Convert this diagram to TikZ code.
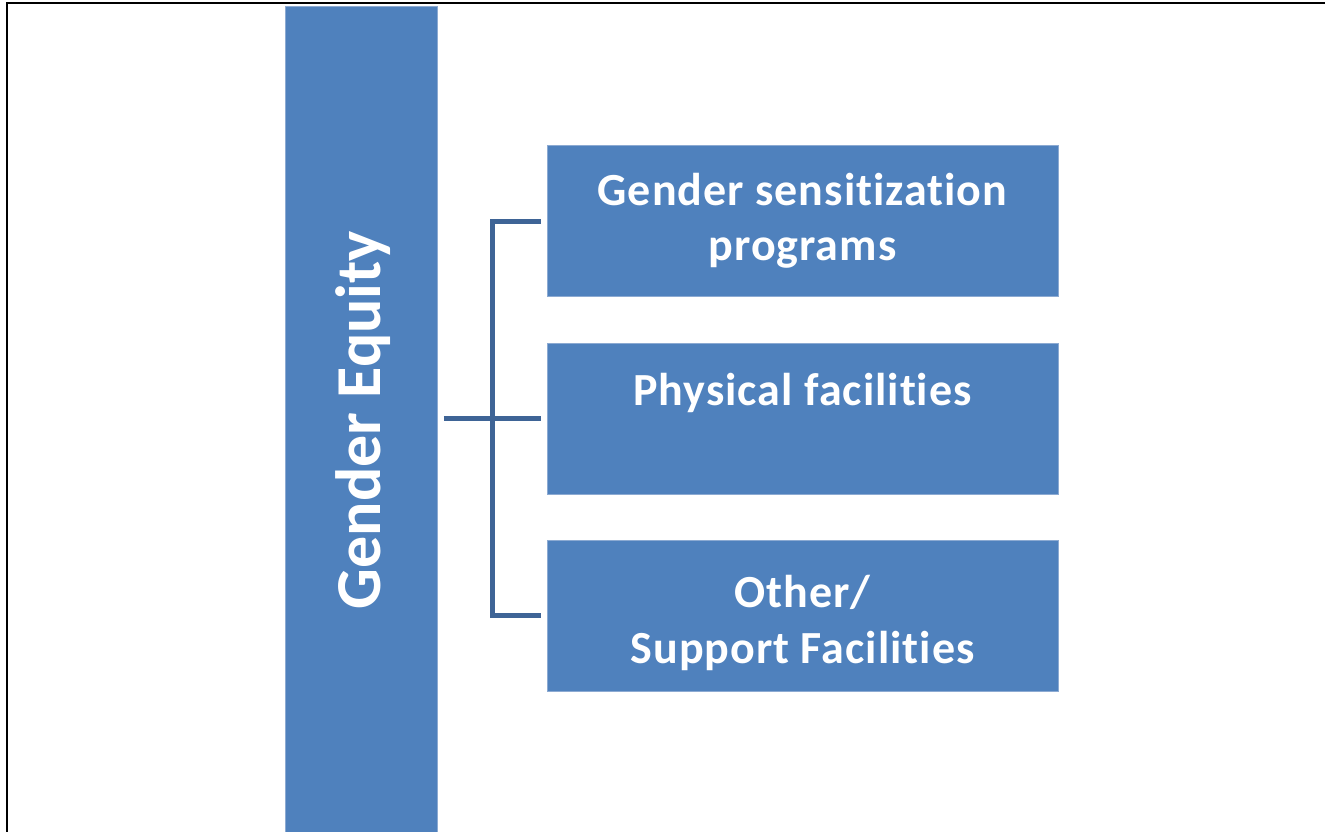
\documentclass[tikz,border=0pt]{standalone}
\usepackage{fontspec}
\setmainfont{Carlito}[Ligatures={NoCommon,NoRare,NoDiscretionary,NoContextual}]
\newfontfamily\boxfont{Carlito}[Ligatures={NoCommon,NoRare,NoDiscretionary,NoContextual},LetterSpace=2.2]
\definecolor{boxblue}{RGB}{79,129,189}
\definecolor{boxedge}{RGB}{140,170,210}
\definecolor{connblue}{RGB}{62,100,150}
\tikzset{
  boxnode/.style={rectangle, fill=boxblue, draw=boxedge, line width=0.8pt, inner sep=0pt, minimum width=511pt, minimum height=151pt},
  barnode/.style={rectangle, fill=boxblue, draw=boxedge, line width=0.8pt, inner sep=0pt, minimum width=152pt, minimum height=830pt, anchor=north west},
  boxtext/.style={text=white, font=\boxfont\fontsize{46}{55}\selectfont\bfseries, anchor=base, inner sep=0pt},
  bartext/.style={text=white, font=\fontsize{64}{78}\selectfont\bfseries, anchor=base, inner sep=0pt, rotate=90},
  conn/.style={draw=connblue, line width=5pt, line join=miter},
  frame/.style={draw=black, line width=2.2pt}
}
\begin{document}
\begin{tikzpicture}[x=1pt,y=-1pt]
\useasboundingbox (0,0) rectangle (1325,831);
\fill[white] (0,0) rectangle (1325,831);
% frame (top and left edges visible)
\coordinate (ftl) at (7,3);
\coordinate (ftr) at (1330,3);
\coordinate (fbl) at (7,840);
\draw[frame] (ftr) -- (ftl) -- (fbl);
% bar
\node[barnode] (ge) at (285,6) {};
\node[bartext] (getxt) at (380,420) {Gender Equity};
% boxes
\node[boxnode] (b1) at (802.5,221) {};
\node[boxnode] (b2) at (802.5,418.5) {};
\node[boxnode] (b3) at (802.5,615.5) {};
\node[boxtext] (t1a) at (802.5,205) {Gender sensitization};
\node[boxtext] (t1b) at (802.5,260) {programs};
\node[boxtext] (t2) at (802.5,405) {Physical facilities};
\node[boxtext] (t3a) at (802.5,607) {Other/};
\node[boxtext] (t3b) at (802.5,663) {Support Facilities};
% connectors
\coordinate (j) at (492,0);
\draw[conn] ([xshift=-6pt]b1.west) -- (b1.west -| j) -- (b3.west -| j) -- ([xshift=-6pt]b3.west);
\draw[conn] ([xshift=6pt]ge.east |- b2.west) -- ([xshift=-6pt]b2.west);
\end{tikzpicture}
\end{document}
